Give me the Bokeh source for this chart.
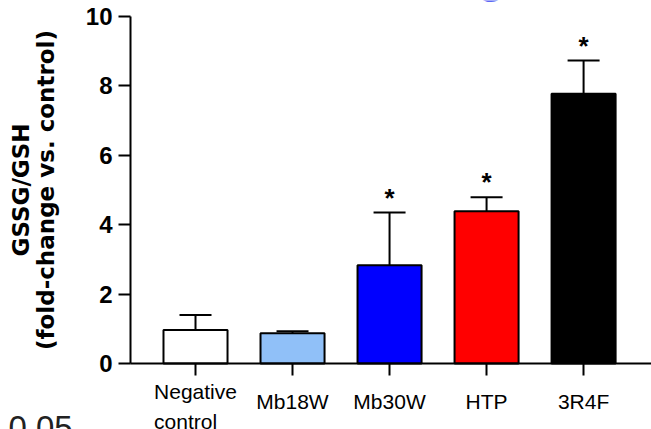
from bokeh.plotting import figure
from bokeh.models import (Range1d, FixedTicker, ColumnDataSource, Whisker,
                          TeeHead, Label, LabelSet)
from bokeh.core.properties import value
from bokeh.embed import file_html
from bokeh.resources import INLINE

# ---- data ----
categories = ["Negative\ncontrol", "Mb18W", "Mb30W", "HTP", "3R4F"]
means = [0.97, 0.87, 2.83, 4.39, 7.77]
errors = [0.43, 0.06, 1.52, 0.40, 0.96]
significant = [False, False, True, True, True]
bar_colors = ["#FFFFFF", "#90C0F8", "#0000FF", "#FF0000", "#000000"]
y_ticks = [0, 2, 4, 6, 8, 10]
y_title = "GSSG/GSH\n(fold-change vs. control)"

xs = list(range(len(categories)))
uppers = [m + e for m, e in zip(means, errors)]

src = ColumnDataSource(dict(x=xs, top=means, upper=uppers, color=bar_colors))
star_src = ColumnDataSource(dict(
    x=[x for x, s in zip(xs, significant) if s],
    y=[u for u, s in zip(uppers, significant) if s],
    t=["*" for s in significant if s],
))

# the plotting frame fills the whole canvas; axes are pinned at x=-0.67 / y=0
X_AXIS_AT = -0.67
p = figure(width=651, height=429, output_backend="svg", toolbar_location=None,
           title=None,
           x_range=Range1d(-2.01, 4.70), y_range=Range1d(-1.90, 10.46),
           min_border_left=0, min_border_right=0, min_border_top=0,
           min_border_bottom=0)
p.outline_line_color = None
p.xgrid.visible = False
p.ygrid.visible = False
p.background_fill_color = "white"
p.border_fill_color = "white"

p.vbar(x="x", top="top", bottom=0, width=0.66, fill_color="color",
       line_color="black", line_width=2, source=src)

p.add_layout(Whisker(base="x", upper="upper", lower="top", source=src,
                     line_color="black", line_width=2,
                     upper_head=TeeHead(size=32, line_color="black", line_width=2),
                     lower_head=None))

p.text(x="x", y="y", text="t", source=star_src, text_align="center",
       text_baseline="alphabetic", y_offset=-15,
       text_font=value("Liberation Sans"),
       text_font_style="bold", text_font_size="26px", text_color="black")

# y axis
ya = p.yaxis[0]
ya.fixed_location = X_AXIS_AT
ya.bounds = (y_ticks[0], y_ticks[-1])
ya.ticker = FixedTicker(ticks=y_ticks)
ya.major_tick_out = 12
ya.major_tick_in = 0
ya.minor_tick_line_color = None
ya.axis_line_width = 2
ya.major_tick_line_width = 2
ya.major_label_text_font = "Liberation Sans"
ya.major_label_text_font_style = "bold"
ya.major_label_text_font_size = "24px"
ya.major_label_text_color = "black"
ya.major_label_standoff = 6
ya.axis_label = y_title
ya.axis_label_text_font = "DejaVu Sans"
ya.axis_label_text_font_style = "bold"
ya.axis_label_text_font_size = "23px"
ya.axis_label_text_color = "black"
ya.axis_label_text_line_height = 0.95
ya.axis_label_standoff = 24

# x axis
xa = p.xaxis[0]
xa.fixed_location = 0
xa.bounds = (X_AXIS_AT, 4.70)
xa.ticker = FixedTicker(ticks=xs)
xa.major_label_overrides = {i: "" for i in xs}
xa.major_tick_out = 12
xa.major_tick_in = 0
xa.minor_tick_line_color = None
xa.axis_line_width = 2
xa.major_tick_line_width = 2

# category labels under the ticks (vertically centred, like the original)
lab_src = ColumnDataSource(dict(
    x=xs, text=categories,
    y=[-1.095 - 0.145 * c.count("\n") for c in categories],
))
p.add_layout(LabelSet(x="x", y="y", text="text", source=lab_src,
                      text_align="center", text_baseline="middle",
                      text_font=value("Liberation Sans"), text_font_size="21px",
                      text_line_height=1.3, text_color="black"))

# cropped fragments of neighbouring panels
p.add_layout(Label(x=8, y=2, x_units="screen", y_units="screen",
                   text="0.05", text_baseline="middle",
                   text_font="Liberation Sans", text_font_size="33px",
                   text_color="#222222"))
p.add_layout(Label(x=490, y=444, x_units="screen", y_units="screen",
                   text="o", text_align="center", text_baseline="middle",
                   text_font="Liberation Sans", text_font_style="bold",
                   text_font_size="46px", text_color="#5B67F4"))

open("out.html", "w").write(file_html(p, INLINE))
